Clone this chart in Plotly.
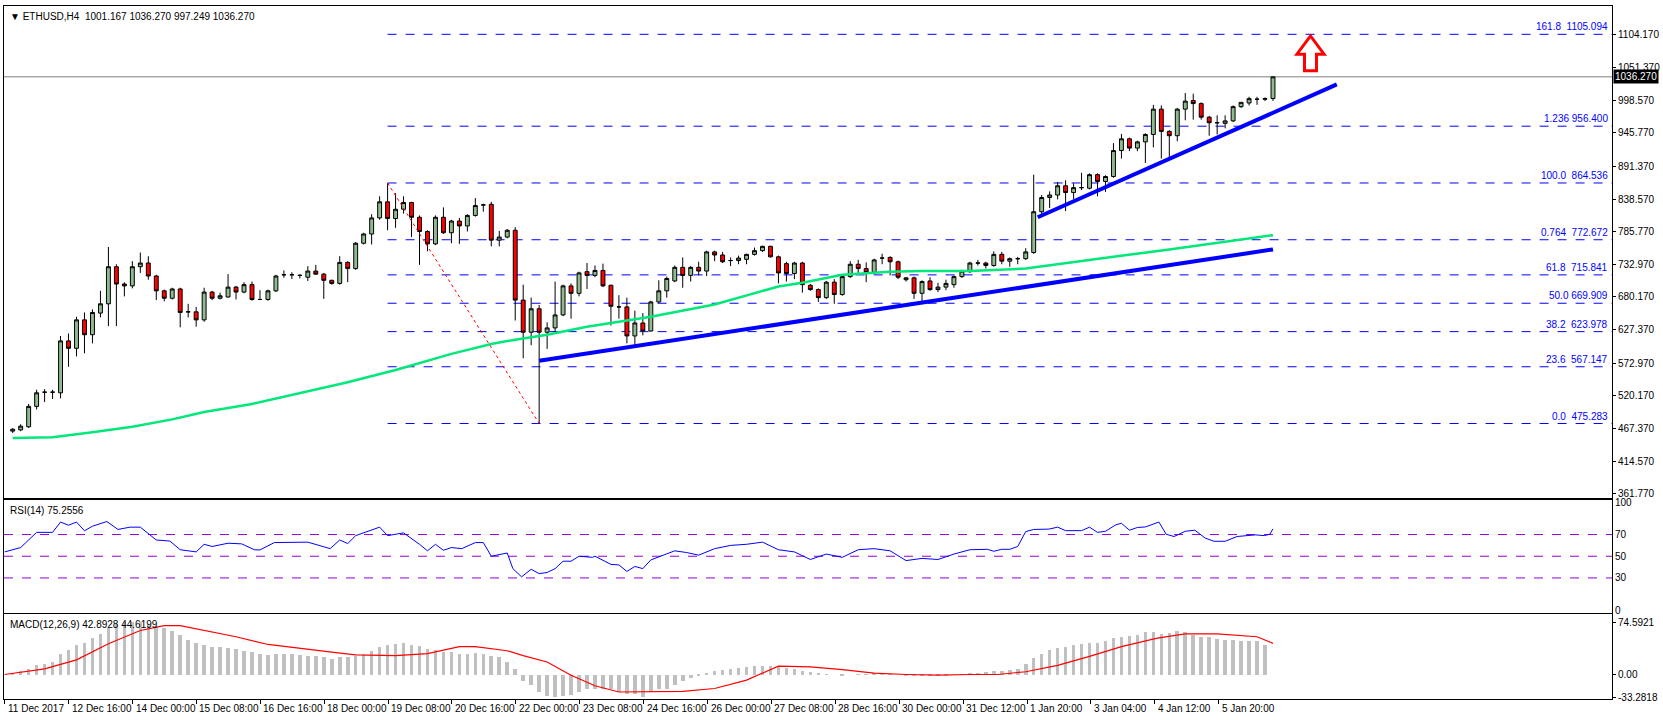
import plotly.graph_objects as go

# ETHUSD H4 candles (bar index 0..158)
opens = [463,465,470,503,526,526,525,609,597,643,619,654,669,729,701,698,729,735,714,690,
         678,693,656,656,643,688,678,680,696,688,700,676,676,690,716,716,715,712,722,717,
         707,702,736,726,767,782,808,834,807,822,833,809,786,766,809,784,803,795,812,829,
         830,772,777,788,675,623,661,623,630,651,698,686,721,715,723,699,664,664,617,638,
         625,672,690,706,728,715,728,722,753,748,739,739,741,749,755,762,745,734,718,735,
         699,692,679,704,684,713,733,726,720,743,744,737,708,711,686,706,692,696,700,713,
         721,735,735,731,749,738,742,742,752,818,841,845,860,849,857,856,878,867,875,917,
         936,921,931,943,984,948,941,984,998,993,971,962,961,965,988,994,1000,1000,1001.167]
highs = [468,474,507,530,531,530,617,621,648,655,660,690,761,733,704,738,752,746,716,692,
         695,695,669,664,695,690,687,717,698,704,705,691,692,716,723,720,717,730,732,719,
         708,746,738,769,784,814,843,864.5,848,843,834,812,788,812,825,805,808,814,840,831,
         834,787,790,793,700,679,667,639,705,700,702,721,735,731,734,700,683,679,658,654,
         674,707,713,731,744,730,737,755,755,753,744,747,750,760,763,763,747,737,737,737,
         701,694,706,709,715,738,740,736,742,750,746,739,712,713,707,712,703,708,715,724,
         737,740,737,754,753,744,745,759,878,845,851,866,869,864,881,880,880,877,929,944,
         938,933,945,991,990,950,986,1010,1009,995,973,974,974,990,995,1004,1004,1003,1036.27]
lows = [460,463,468,498,510,515,516,567,584,589,605,647,633,633,681,694,719,708,675,673,
        676,631,647,632,640,675,676,679,676,686,674,675,674,688,711,709,710,706,716,677,
        700,700,704,724,765,765,805,788,792,815,777,732,754,764,782,767,766,786,810,818,
        762,762,775,642,581,602,475.3,596,623,649,645,681,693,712,696,634,645,605,601,618,
        624,670,679,704,695,705,715,714,738,735,730,733,733,747,753,744,702,705,709,687,
        690,672,677,669,682,711,719,704,718,733,715,709,705,677,673,690,688,691,695,711,
        719,731,726,729,733,729,733,740,750,814,824,838,819,838,853,854,843,850,873,904,
        916,916,897,922,904,904,932,966,967,967,941,943,953,963,986,990,991,997,997.249]
closes = [466,471,503,525,526,526,609,597,643,619,655,669,729,701,698,729,735,714,690,678,
          693,655,656,643,688,678,682,696,688,700,676,676,690,714,716,716,715,722,717,707,
          702,736,726,767,782,808,834,807,822,833,809,786,766,809,784,803,795,812,828,829,
          772,777,788,675,623,661,623,630,651,698,686,719,715,723,698,665,664,617,638,625,
          672,690,710,728,715,728,722,753,748,737,739,743,749,755,762,745,719,718,735,700,
          692,679,704,684,713,733,726,720,740,743,737,712,711,686,705,692,696,702,713,722,
          735,735,731,749,738,742,742,753,818,841,845,860,849,857,857,878,867,875,917,936,
          921,931,943,984,948,941,984,997,993,971,962,962,965,988,995,1001,1000,1001,1036.27]

# moving average (green) read at sample bars
ma_bars = [0,5,10,15,20,24,30,36,42,48,55,60,63,67,72,80,88,96,99,104,110,114,120,127,132,138,145,152,158]
ma_vals = [452,453,461,470,482,494,507,524,542,562,588,604,611,619,632,648,668,697,703,716,721,722,722,726,735,745,757,769,780]

# fibonacci levels
fib_vals = [1105.094, 956.400, 864.536, 772.672, 715.841, 669.909, 623.978, 567.147, 475.283]
fib_text = ["161.8  1105.094", "1.236 956.400", "100.0  864.536", "0.764  772.672", "61.8  715.841",
            "50.0 669.909", "38.2  623.978", "23.6  567.147", "0.0  475.283"]
fib_start = 47

# trend lines (bar, price)
trend1 = [(66, 577), (158, 757)]
trend2 = [(128.5, 809), (166, 1024)]
swing = [(47, 864.5), (66, 475.3)]

# RSI(14) samples
rsi_bars = [-1,1,3,5,6,7,8,9,10,11.8,13.2,14.7,16,18,19.7,21,23,24,25,27,28.7,30.3,31,32.8,37,39.8,41,42,43,46,47,49,
            51,52,53,54,55,56.3,58,59,60,62,62.7,63.8,65,66,67,68,69,70,71,72.7,73,75,76,77,78,79,80,83,84.5,86,
            88,90,92,94,96,98,100,102,104,106,108,110,112,114,116,118,120,122.2,123,124,125,126,127,128,129.9,131,
            132,133.3,134,135,136,137,138.3,139,140,141,142,143.7,144.6,145.6,147,148.2,149.5,150.6,152,153.5,154.5,
            155.8,156.9,157.6,158]
rsi_vals = [54,58,72,72,81.5,78.6,81.5,73.5,77.7,82,74.7,76.8,76.8,65,64,56,54,61,59,62,61.4,56,55.8,62.6,63,57,65,61.7,
            69,76.8,69,71.5,61,55,61,55.5,58,57,62.6,62.6,50,53,38.6,31,38,34,35,38.6,45.4,45.4,50,49,50,42.5,42,36,40.6,
            38.6,46.6,55,53.4,51,57,60,61,63,56,54,47,52,49,56,57,55,46,48,47,52,56,56.4,54.6,56.4,56.4,59,72.7,74.7,75,
            76.8,73.6,74,73.6,76.8,72,73,79,80.4,74,76.5,77,81.5,70.3,68.2,73,74,66.7,63.8,63.8,68.2,69,69.7,69,70.3,75.26]

# MACD(12,26,9) histogram per bar and signal line samples
macd_hist = [3,5,8,14,16,19,30,35,42,46,52,58,67,72,76,75,75,73,70,67,63,57,50,45,43,40,40,38,37,34,
             32,30,28,30,30,30,28,27,27,26,23,25,26,27,30,34,40,42,44,46,42,41,37,36,33,32,30,30,31,30,
             27,25,19,8,-9,-15,-24,-30,-32,-30,-29,-25,-20,-20,-20,-20,-25,-28,-28,-31,-24,-20,-20,-15,-9,-4,-1,3,5,7,
             9,10,11,12,13,13,12,10,9,6,4,2,1,0,-1,0,1,1,2,2,1,0,-1,-2,-2,-2,-2,-1,0,1,
             2,3,4,6,6,7,9,16,24,30,35,38,40,42,44,45,45,49,53,54,55,57,61,61,58,60,62,61,57,54,
             54,51,50,50,49,48,48,42.89]
sig_bars = [-1,4,8,12,16,19,21,24,28,32,36,40,43,48,52,56,58,62,64,67,70,73,76,80,84,88,92,96,100,104,108,112,116,
            120,123.5,127,131,135,139,143.5,147,151,154,156,158]
sig_vals = [0,8,21,44,63,70,70,63,54,43,37,32,28,27,30,40,40,34,27,18,-1,-16,-25,-25,-24,-20,-8,12,11,7,2,0,-1,
            0,0,4,13,26,40,52,58,58,56,54,44.62]

date_labels = ["11 Dec 2017", "12 Dec 16:00", "14 Dec 00:00", "15 Dec 08:00", "16 Dec 16:00", "18 Dec 00:00",
               "19 Dec 08:00", "20 Dec 16:00", "22 Dec 00:00", "23 Dec 08:00", "24 Dec 16:00", "26 Dec 00:00",
               "27 Dec 08:00", "28 Dec 16:00", "30 Dec 00:00", "31 Dec 12:00", "1 Jan 20:00", "3 Jan 04:00",
               "4 Jan 12:00", "5 Jan 20:00"]
price_ticks = [1104.17, 1051.37, 998.57, 945.77, 891.37, 838.57, 785.77, 732.97, 680.17, 627.37, 572.97,
               520.17, 467.37, 414.57, 361.77]

bars = list(range(len(closes)))
XR = [-1.09, 200.5]
FONT = "Liberation Sans"

fig = go.Figure()
fig.add_trace(go.Scatter(x=ma_bars, y=ma_vals, mode="lines", line=dict(color="#00E87A", width=2.5), xaxis="x", yaxis="y"))
fig.add_trace(go.Candlestick(x=bars, open=opens, high=highs, low=lows, close=closes,
                             increasing=dict(fillcolor="#8FBC8F", line=dict(color="black", width=1)),
                             decreasing=dict(fillcolor="#FF0000", line=dict(color="black", width=1)),
                             whiskerwidth=0, xaxis="x", yaxis="y"))
for t in (trend1, trend2):
    fig.add_trace(go.Scatter(x=[p[0] for p in t], y=[p[1] for p in t], mode="lines",
                             line=dict(color="#0000FF", width=4), xaxis="x", yaxis="y"))
fig.add_trace(go.Scatter(x=[p[0] for p in swing], y=[p[1] for p in swing], mode="lines",
                         line=dict(color="#FF0000", width=1, dash="dot"), xaxis="x", yaxis="y"))

fig.add_trace(go.Scatter(x=rsi_bars, y=rsi_vals, mode="lines", line=dict(color="#0000FF", width=1), xaxis="x2", yaxis="y2"))
fig.add_trace(go.Bar(x=bars, y=macd_hist, marker=dict(color="#C0C0C0", line=dict(width=0)), width=0.45, xaxis="x3", yaxis="y3"))
fig.add_trace(go.Scatter(x=sig_bars, y=sig_vals, mode="lines", line=dict(color="#FF0000", width=1.2), xaxis="x3", yaxis="y3"))

shapes = []
for v in fib_vals:
    shapes.append(dict(type="line", xref="x", yref="y", x0=fib_start, x1=XR[1], y0=v, y1=v,
                       line=dict(color="#0000FF", width=1, dash="dash"), layer="below"))
shapes.append(dict(type="line", xref="x", yref="y", x0=XR[0], x1=XR[1], y0=closes[-1], y1=closes[-1],
                   line=dict(color="#808080", width=1), layer="below"))
for v in (70, 50, 30):
    shapes.append(dict(type="line", xref="x2", yref="y2", x0=XR[0], x1=XR[1], y0=v, y1=v,
                       line=dict(color="#9400D3", width=1, dash="dash"), layer="below"))
# up arrow
ac, aw, sw = 162.7, 1.7, 0.75
ab, ah, at = 1046, 1073, 1102.5
shapes.append(dict(type="path", xref="x", yref="y", fillcolor="white", line=dict(color="#FF0000", width=3),
                   path=f"M {ac-sw},{ab} L {ac+sw},{ab} L {ac+sw},{ah} L {ac+aw},{ah} L {ac},{at} "
                        f"L {ac-aw},{ah} L {ac-sw},{ah} Z"))

ann = []
for v, t in zip(fib_vals, fib_text):
    ann.append(dict(x=1, xref="paper", y=v, yref="y", text=t, showarrow=False, xanchor="right", yanchor="bottom",
                    xshift=-2, font=dict(color="#0000FF", size=10, family=FONT)))
ann.append(dict(x=1, xref="paper", y=closes[-1], yref="y", text="1036.270", showarrow=False, xanchor="left",
                xshift=1, bgcolor="black", font=dict(color="white", size=10, family=FONT), borderpad=1))
ann.append(dict(x=0, xref="paper", y=1, yref="paper", text="▼ ETHUSD,H4  1001.167 1036.270 997.249 1036.270",
                showarrow=False, xanchor="left", yanchor="top", xshift=4, yshift=-3, font=dict(size=10, family=FONT, color="black")))
ann.append(dict(x=0, xref="paper", y=0.2874, yref="paper", text="RSI(14) 75.2556", showarrow=False,
                xanchor="left", yanchor="top", xshift=4, yshift=-3, font=dict(size=10, family=FONT, color="black")))
ann.append(dict(x=0, xref="paper", y=0.1231, yref="paper", text="MACD(12,26,9) 42.8928 44.6199", showarrow=False,
                xanchor="left", yanchor="top", xshift=4, yshift=-3, font=dict(size=10, family=FONT, color="black")))
date_ticks = [-1.0 + 8.01 * k for k in range(len(date_labels))]
for xv, t in zip(date_ticks, date_labels):
    ann.append(dict(x=xv, xref="x3", y=0, yref="paper", text=t, showarrow=False, xanchor="left", yanchor="top",
                    xshift=1, yshift=-2, font=dict(size=10, family=FONT, color="black")))

ax = dict(showline=True, linecolor="black", linewidth=1, mirror=True, showgrid=False, zeroline=False,
          range=XR, fixedrange=True)
yax = dict(showline=True, linecolor="black", linewidth=1, mirror=True, showgrid=False, zeroline=False,
           side="right", ticks="outside", ticklen=3, tickcolor="black", tickfont=dict(size=10, family=FONT, color="black"))

fig.update_layout(
    width=1663, height=720, margin=dict(l=3, r=47, t=3, b=21),
    paper_bgcolor="white", plot_bgcolor="white", showlegend=False, bargap=0,
    shapes=shapes, annotations=ann,
    xaxis=dict(ax, anchor="y", showticklabels=False, rangeslider=dict(visible=False)),
    xaxis2=dict(ax, anchor="y2", showticklabels=False),
    xaxis3=dict(ax, anchor="y3", showticklabels=False, ticks="outside", ticklen=4, tickcolor="black",
                tickvals=date_ticks),
    yaxis=dict(yax, domain=[0.2907, 1], range=[355.5, 1150.9], tickvals=price_ticks,
               ticktext=[f"{v:.3f}" for v in price_ticks]),
    yaxis2=dict(yax, domain=[0.1246, 0.2874], range=[-2, 102], tickvals=[100, 70, 50, 30, 0], ticklen=0),
    yaxis3=dict(yax, domain=[0, 0.1231], range=[-35, 87], tickvals=[74.5921, 0, -33.2818],
                ticktext=["74.5921", "0.00", "-33.2818"]),
)

fig.write_html("out.html", config={"displayModeBar": False},
               post_script="document.body.style.margin='0';document.body.style.overflow='hidden';")
